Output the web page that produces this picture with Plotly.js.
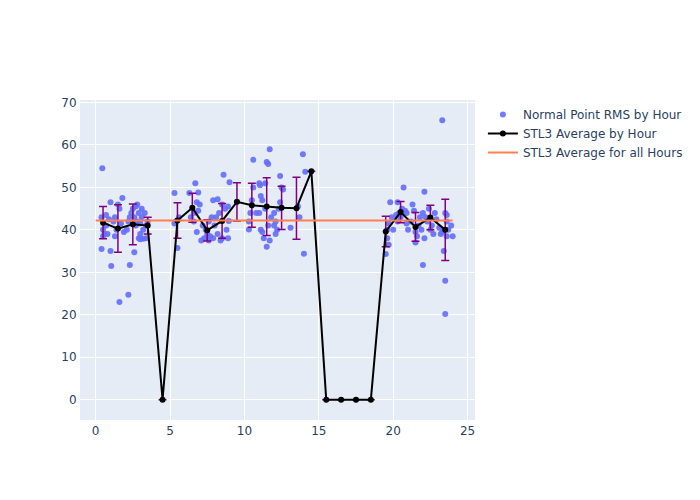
<!DOCTYPE html>
<html>
<head>
<meta charset="utf-8">
<script src="https://cdn.plot.ly/plotly-3.0.1.min.js"></script>
<style>html,body{margin:0;padding:0;}#chart{width:700px;height:500px;}</style>
</head>
<body>
<div id="chart"></div>
<script>
// Normal point RMS samples (hour of day, RMS)
const pointHours = [
  0.45,0.4,0.4,0.5,0.6,0.7,0.9,1.0,1.0,1.05,0.8,0.5,0.7,
  1.6,1.8,1.6,1.2,1.3,1.4,1.3,1.7,1.5,1.9,
  2.2,2.3,2.6,2.8,2.5,2.4,2.3,2.2,2.7,2.1,2.9,2.9,2.7,2.6,2.8,
  3.0,3.2,3.1,3.3,3.4,3.2,3.0,3.1,3.5,3.4,3.0,
  5.3,5.3,5.5,5.6,5.4,
  6.3,6.7,6.9,6.8,7.0,6.4,6.6,6.6,6.8,6.9,
  7.1,7.3,7.5,7.7,7.4,7.6,7.8,7.9,7.9,7.6,7.2,
  8.2,8.6,8.5,8.7,8.1,8.3,8.8,8.5,8.4,8.9,8.2,8.0,8.9,
  9.0,8.95,
  10.3,10.3,10.4,10.5,10.6,10.6,10.8,
  11.0,11.05,11.1,11.2,11.0,11.1,11.2,11.3,11.5,11.7,11.5,11.6,11.4,11.4,11.6,11.8,11.7,
  12.5,12.4,12.6,12.3,12.0,12.2,12.1,12.4,12.0,12.1,
  13.1,13.7,13.6,13.93,14.09,14.0,
  19.5,19.7,19.6,19.6,19.7,19.9,19.8,20.0,
  20.3,20.7,20.4,20.5,20.3,20.8,20.9,20.6,20.2,20.9,
  21.3,21.4,21.2,21.0,21.5,21.6,21.5,21.7,21.8,21.9,22.0,
  22.1,22.0,22.4,22.2,22.3,22.6,22.5,22.1,22.7,22.8,22.9,
  23.3,23.5,23.5,23.4,23.6,23.3,23.7,23.9,23.6,23.6,23.5,24.0,23.2,23.1
];
const pointRms = [
  54.5,35.5,43,40,39,41,42.5,46.5,35,31.5,39,38.5,43.5,
  23,47.5,45,42,38.5,40,43,41.5,46,39.5,
  24.7,31.7,34.7,46,45,44,43,42,41,40,38,44,45.5,43,42,
  37.8,37.9,45,44,41,40,39,43,42,38,41.5,
  48.7,41.5,35.7,43,42,
  48.7,51,48.8,46.5,46,43,42,44,39.5,44.5,
  37.5,38,39,38.5,40,42,43,47,38,37.5,41,
  47.2,53,46,45,43,44,40,38,37.5,38,39,41,45.5,
  51.2,42.1,
  40.1,42,44,47,50,56.5,44,
  51,50.5,48,47,44,40,39.5,38,36,59,56,55.5,51,45,41,43,37.5,
  50,52.7,49.5,45,44,40,39,46.5,41,42,
  40.5,43,45.5,57.8,53.7,34.4,
  34.3,36.5,38,40,41.5,43,46.5,40,
  46.5,50,44,43,42,44.5,41.5,45,43.5,44,
  46,44.5,42,40,39.5,38.5,37,41,43,40,31.7,
  49,44,45,43,42,41,40,38,39,44,42.5,
  65.8,28,20.2,35,38.5,39.5,40,41,42,43.5,44,38.5,39,40.5
];
// Hourly averages of STL3
const avgHours = [0.5,1.5,2.5,3.5,4.5,5.5,6.5,7.5,8.5,9.5,10.5,11.5,12.5,13.5,14.5,15.5,16.5,17.5,18.5,19.5,20.5,21.5,22.5,23.5];
const avgRms  = [41.7,40.3,41.3,41.0,0,42.2,45.2,39.9,42.1,46.6,45.8,45.5,45.2,45.1,53.8,0,0,0,0,39.6,44.2,40.7,42.9,40.0];
const avgStd  = [3.8,5.6,4.8,2.0,0,4.2,3.4,2.5,4.1,4.5,5.2,6.8,5.1,7.3,null,0,0,0,0,3.6,2.5,3.4,2.9,7.2];
// Overall average
const overallHours = [0,24];
const overallRms = [42.2,42.2];

const traces = [
  {
    type: 'scatter', mode: 'markers', name: 'Normal Point RMS by Hour',
    x: pointHours, y: pointRms,
    marker: {color: '#636efa', size: 6, opacity: 0.9}
  },
  {
    type: 'scatter', mode: 'lines+markers', name: 'STL3 Average by Hour',
    x: avgHours, y: avgRms,
    line: {color: 'black', width: 2},
    marker: {color: 'black', size: 6},
    error_y: {type: 'data', array: avgStd, visible: true, color: 'purple', thickness: 1.5, width: 4}
  },
  {
    type: 'scatter', mode: 'lines', name: 'STL3 Average for all Hours',
    x: overallHours, y: overallRms,
    line: {color: '#ff7f50', width: 2}
  }
];

const layout = {
  width: 700, height: 500,
  paper_bgcolor: 'white',
  plot_bgcolor: '#e5ecf6',
  font: {color: '#2a3f5f', family: '"DejaVu Sans", sans-serif', size: 12},
  xaxis: {range: [-1.05, 25.5], gridcolor: 'white', zeroline: false, tickvals: [0,5,10,15,20,25], linecolor: 'white'},
  yaxis: {range: [-4.8, 70.6], gridcolor: 'white', zeroline: false, tickvals: [0,10,20,30,40,50,60,70], linecolor: 'white'},
  legend: {font: {size: 12}},
  margin: {l: 80, r: 80, t: 100, b: 80},
  showlegend: true
};

Plotly.newPlot('chart', traces, layout, {displayModeBar: false});
</script>
</body>
</html>
